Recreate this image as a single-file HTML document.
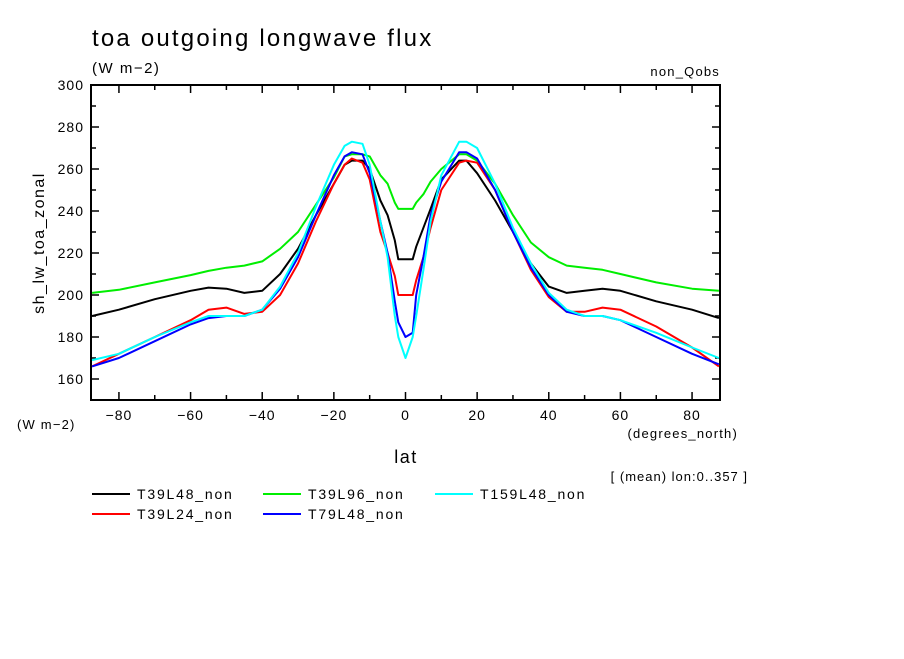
<!DOCTYPE html>
<html><head><meta charset="utf-8"><style>
body{margin:0;background:#fff;}
svg text{font-family:"Liberation Sans",sans-serif;fill:#000;}
</style></head><body>
<svg id="c" width="904" height="654" xmlns="http://www.w3.org/2000/svg">
<text x="92" y="46" font-size="24" letter-spacing="2.2">toa outgoing longwave flux</text>
<text x="92" y="73" font-size="15" letter-spacing="1.5">(W m−2)</text>
<text x="720" y="76" font-size="13" letter-spacing="1.2" text-anchor="end">non_Qobs</text>
<text transform="translate(44,243) rotate(-90)" font-size="16" letter-spacing="1.5" text-anchor="middle">sh_lw_toa_zonal</text>
<text x="17" y="429" font-size="13" letter-spacing="1.2">(W m−2)</text>
<text x="738" y="438" font-size="13" letter-spacing="1.2" text-anchor="end">(degrees_north)</text>
<text x="406" y="463" font-size="18" letter-spacing="1.5" text-anchor="middle">lat</text>
<text x="748" y="481" font-size="13" letter-spacing="1" text-anchor="end">[ (mean) lon:0..357 ]</text>
<g id="plot"></g><g id="legend"></g>
</svg>
<script>
const lats=[-87.5,-80,-70,-60,-55,-50,-45,-40,-35,-30,-25,-20,-17,-15,-12,-10,-7,-5,-3,-2,0,2,3,5,7,10,15,17,20,25,30,35,40,45,50,55,60,70,80,87.5];
const seriesNames=["T39L48_non","T39L96_non","T159L48_non","T39L24_non","T79L48_non"];
const seriesColors=["#000000","#00ee00","#00ffff","#ff0000","#0000ff"];
const green=[201,202.5,206,209.5,211.5,213,214,216,222,230,243,256,266,267,267,266,257,253,244,241,241,241,244,248,254,260,267,267,264,253,238,225,218,214,213,212,210,206,203,202];
const black=[190,193,198,202,203.5,203,201,202,210,222,238,253,262,264,264,260,245,238,226,217,217,217,223,232,241,255,264,264,258,245,230,215,204,201,202,203,202,197,193,189];
const red=[166,172,180,188,193,194,191,192,200,215,235,253,262,265,263,255,230,220,209,200,200,200,207,218,232,250,263,264,263,250,230,212,199,192,192,194,193,185,175,166];
const blue=[166,170,178,186,189,190,190,193,203,218,238,257,266,268,267,258,235,220,197,187,180,182,200,218,238,254,268,268,265,250,230,213,200,192,190,190,188,180,172,167];
const cyan=[169,172,180,187,190,190,190,193,204,220,242,262,271,273,272,262,235,218,190,180,170,180,190,212,235,257,273,273,270,253,232,215,201,193,190,190,188,182,175,170];
const yTicks=[160,180,200,220,240,260,280,300];
const xTicks=[-80,-60,-40,-20,0,20,40,60,80];
const NS="http://www.w3.org/2000/svg";
const L=91,R=720,T=85,B=400,xmin=-87.8,xmax=87.8,ymin=150,ymax=300;
const X=v=>L+(v-xmin)/(xmax-xmin)*(R-L);
const Y=v=>B-(v-ymin)/(ymax-ymin)*(B-T);
const plot=document.getElementById('plot');
function mk(t,a,p){const e=document.createElementNS(NS,t);for(const k in a)e.setAttribute(k,a[k]);(p||plot).appendChild(e);return e;}
const frame=mk('rect',{x:L,y:T,width:R-L,height:B-T,fill:'none',stroke:'#000','stroke-width':2});


for(let v=160;v<=300;v+=10){const maj=v%20==0;const w=maj?8:5;
 mk('line',{x1:L,x2:L+w,y1:Y(v),y2:Y(v),stroke:'#000','stroke-width':1.5});
 mk('line',{x1:R-w,x2:R,y1:Y(v),y2:Y(v),stroke:'#000','stroke-width':1.5});}
yTicks.forEach(v=>{const t=mk('text',{x:L-7,y:Y(v)+5,'font-size':14,'letter-spacing':1,'text-anchor':'end'});t.textContent=v;
 
 });
for(let v=-80;v<=80;v+=10){const maj=v%20==0;const w=maj?8:5;
 mk('line',{x1:X(v),x2:X(v),y1:B,y2:B-w,stroke:'#000','stroke-width':1.5});
 mk('line',{x1:X(v),x2:X(v),y1:T,y2:T+w,stroke:'#000','stroke-width':1.5});}
xTicks.forEach(v=>{const t=mk('text',{x:X(v),y:B+20,'font-size':14,'letter-spacing':1,'text-anchor':'middle'});t.textContent=(v<0?'−':'')+Math.abs(v);
 
 });
const data=[black,green,cyan,red,blue];
const order=[1,0,3,4,2];
order.forEach(i=>{const d=lats.map((la,j)=>(j?'L':'M')+X(la).toFixed(1)+','+Y(data[i][j]).toFixed(1)).join(' ');
 const p=mk('path',{d:d,fill:'none',stroke:seriesColors[i],'stroke-width':2,'stroke-linejoin':'round'});
 
 });
const lg=document.getElementById('legend');
const pos=[[92,494],[263,494],[435,494],[92,514],[263,514]];
seriesNames.forEach((n,i)=>{const [x,y]=pos[i];
 const g=mk('g',{},lg);
 
 
 mk('line',{x1:x,x2:x+38,y1:y,y2:y,stroke:seriesColors[i],'stroke-width':2},g);
 const t=mk('text',{x:x+45,y:y+5,'font-size':14,'letter-spacing':1.8},g);t.textContent=n;});
</script>
</body></html>
